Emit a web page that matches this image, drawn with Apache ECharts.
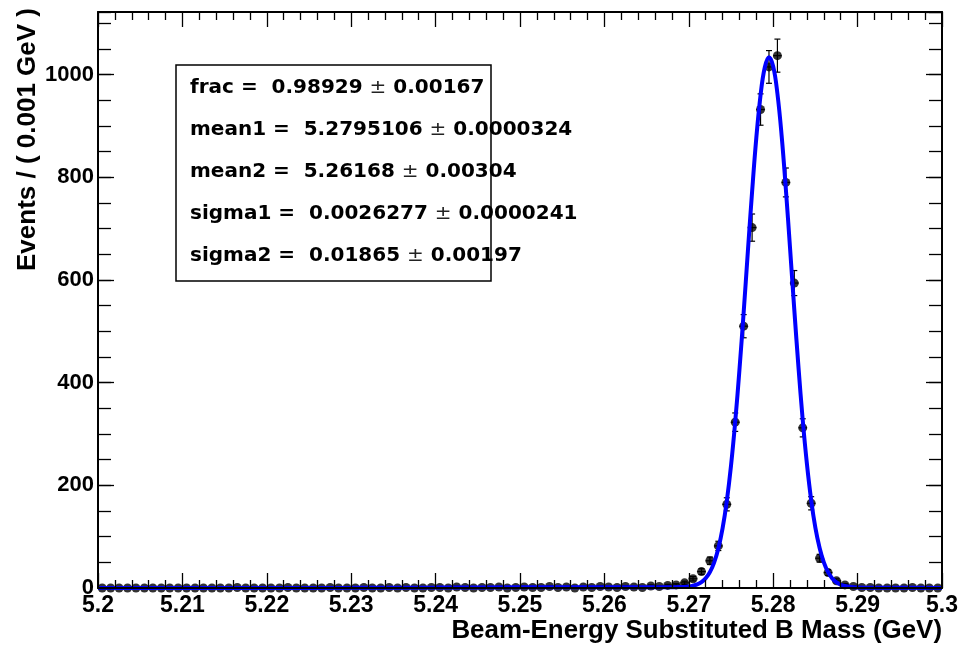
<!DOCTYPE html>
<html>
<head>
<meta charset="utf-8">
<script src="https://cdn.jsdelivr.net/npm/echarts@6/dist/echarts.min.js"></script>
<style>
html,body{margin:0;padding:0;background:#ffffff;}
#chart{width:963px;height:645px;}
</style>
</head>
<body>
<div id="chart"></div>
<script>
// ---- binning of the histogram ----
const binLow = 5.2;
const binWidth = 0.001;

// ---- data: events per bin (100 bins, 5.200 .. 5.300 GeV) ----
const counts = [
  0,0,0,0,0,0,0,0,0,0,
  0,0,0,0,0,0,1,0,0,0,
  0,0,1,0,0,0,0,1,0,0,
  0,1,0,0,1,0,1,0,0,1,
  1,0,2,1,0,1,1,2,0,1,
  2,1,1,3,1,2,0,2,1,3,
  2,1,3,2,1,4,3,5,6,10,
  18,32,53,82,163,323,510,702,932,1015,
  1037,790,594,312,165,58,30,14,6,3,
  1,1,0,0,0,0,1,0,0,0
];
// ---- data: error on each bin ----
const countErrors = [
  1.15,1.15,1.15,1.15,1.15,1.15,1.15,1.15,1.15,1.15,
  1.15,1.15,1.15,1.15,1.15,1.15,1,1.15,1.15,1.15,
  1.15,1.15,1,1.15,1.15,1.15,1.15,1,1.15,1.15,
  1.15,1,1.15,1.15,1,1.15,1,1.15,1.15,1,
  1,1.15,1.41,1,1.15,1,1,1.41,1.15,1,
  1.41,1,1,1.73,1,1.41,1.15,1.41,1,1.73,
  1.41,1,1.73,1.41,1,2,1.73,2.24,2.45,3.16,
  4.24,5.66,7.28,9.06,12.77,17.97,22.58,26.5,30.53,31.86,
  32.2,28.11,24.37,17.66,12.85,7.62,5.48,3.74,2.45,1.73,
  1,1,1.15,1.15,1.15,1.15,1,1.15,1.15,1.15
];

// ---- fitted curve ----
const curveX = [5.200,5.210,5.220,5.230,5.240,5.250,5.260,5.265,5.268,5.269,
  5.2700,5.2705,5.2710,5.2715,5.2720,5.2725,5.2730,5.2735,5.2740,5.2745,
  5.2750,5.2755,5.2760,5.2765,5.2770,5.2775,5.2780,5.2785,5.2790,5.2795,
  5.2800,5.2805,5.2810,5.2815,5.2820,5.2825,5.2830,5.2835,5.2840,5.2845,
  5.2850,5.2855,5.2860,5.2865,5.2870,5.2875,5.2880,5.2885,5.2890,5.2900,
  5.2910,5.2950,5.3000];
const curveY = [0.0,0.03,0.13,0.37,0.8,1.3,1.55,1.5,1.6,1.8,
  3.0,4.4,6.9,11.3,18.9,31,49.5,77,116,169,
  238,324,425,537,656,772,877,960,1014,1034,
  1016,963,881,777,661,542,429,327,241,171,
  117,78,50,31,18.6,11,6.4,3.8,2.3,0.8,
  0.5,0.3,0.2];

// ---- tick labels ----
const xTickLabels = ['5.2','5.21','5.22','5.23','5.24','5.25','5.26','5.27','5.28','5.29','5.3'];
const yTickLabels = ['0','200','400','600','800','1000'];

// ---- texts ----
const xTitle = 'Beam-Energy Substituted B Mass (GeV)';
const yTitle = 'Events / ( 0.001 GeV )';
const paramNames = ['frac =  ', 'mean1 =  ', 'mean2 =  ', 'sigma1 =  ', 'sigma2 =  '];
const paramValues = ['0.98929', '5.2795106', '5.26168', '0.0026277', '0.01865'];
const paramErrors = ['0.00167', '0.0000324', '0.00304', '0.0000241', '0.00197'];

// ---- build ----
const FONT = "'Liberation Sans', Arial, Helvetica, sans-serif";
const BOXFONT = "'DejaVu Sans', 'Liberation Sans', sans-serif";
const points = counts.map((c, i) => [binLow + (i + 0.5) * binWidth, c, countErrors[i]]);
const curve = curveX.map((x, i) => [x, curveY[i]]);

const X_MIN = 5.2, X_MAX = 5.3, Y_MAX = 1122;

function xFmt(v) {
  const i = Math.round((v - X_MIN) / 0.01);
  if (Math.abs(v - (X_MIN + i * 0.01)) < 1e-7 && xTickLabels[i] !== undefined) return xTickLabels[i];
  return '';
}
function yFmt(v) {
  const i = Math.round(v / 200);
  if (Math.abs(v - i * 200) < 1e-6 && yTickLabels[i] !== undefined) return yTickLabels[i];
  return '';
}

const tickStyle = { color: '#000', width: 1.3 };

function xAxisDef(pos, labels) {
  return {
    type: 'value', position: pos, min: X_MIN, max: X_MAX, interval: 0.01, z: 10,
    axisLine: { show: true, onZero: false, lineStyle: { color: '#000', width: 2 } },
    axisTick: { show: true, inside: true, length: 15, lineStyle: tickStyle },
    minorTick: { show: true, splitNumber: 5, length: 8, lineStyle: tickStyle },
    splitLine: { show: false }, minorSplitLine: { show: false },
    axisLabel: labels ? { show: true, formatter: xFmt, color: '#000', fontFamily: FONT, fontWeight: 'bold', fontSize: 23, margin: 6, showMinLabel: true, showMaxLabel: true } : { show: false }
  };
}
function yAxisDef(pos, interval, len, line, labels) {
  return {
    type: 'value', position: pos, min: 0, max: Y_MAX, interval: interval, z: 10,
    axisLine: { show: line, onZero: false, lineStyle: { color: '#000', width: 2 } },
    axisTick: { show: true, inside: true, length: len, lineStyle: tickStyle },
    splitLine: { show: false },
    axisLabel: labels ? { show: true, formatter: yFmt, color: '#000', fontFamily: FONT, fontWeight: 'bold', fontSize: 22, margin: 4, showMaxLabel: false } : { show: false }
  };
}

const chart = echarts.init(document.getElementById('chart'), null, { renderer: 'canvas' });

const graphics = [
  {
    type: 'text', x: 942, y: 631, z: 20,
    style: { text: xTitle, fill: '#000', font: "bold 25.9px 'Liberation Sans', Arial, sans-serif", align: 'right', verticalAlign: 'middle' }
  },
  {
    type: 'text', x: 28, y: 8, rotation: Math.PI / 2, z: 20,
    style: { text: yTitle, fill: '#000', font: "bold 26px 'Liberation Sans', Arial, sans-serif", align: 'right', verticalAlign: 'middle' }
  },
  {
    type: 'rect', z: 15,
    shape: { x: 176, y: 65, width: 315, height: 216 },
    style: { fill: '#ffffff', stroke: '#000', lineWidth: 1.5 }
  }
];
const lineY = [88, 130, 172, 214, 256];
paramNames.forEach((n, i) => {
  graphics.push({
    type: 'text', x: 190, y: lineY[i], z: 20,
    style: {
      text: '{b|' + n + paramValues[i] + ' }{pm|±}{b| ' + paramErrors[i] + '}',
      align: 'left', verticalAlign: 'middle',
      rich: {
        b: { fontFamily: BOXFONT, fontWeight: 'bold', fontSize: 20, fill: '#000' },
        pm: { fontFamily: BOXFONT, fontWeight: 'normal', fontSize: 20, fill: '#222' }
      }
    }
  });
});

chart.setOption({
  animation: false,
  backgroundColor: '#ffffff',
  grid: { left: 98, right: 21, top: 12, bottom: 57, containLabel: false, outerBoundsMode: 'none' },
  xAxis: [xAxisDef('bottom', true), xAxisDef('top', false)],
  yAxis: [
    yAxisDef('left', 200, 16, true, true),
    yAxisDef('left', 50, 13, false, false),
    yAxisDef('right', 200, 16, true, false),
    yAxisDef('right', 50, 13, false, false)
  ],
  series: [
    {
      type: 'custom', name: 'errors', xAxisIndex: 0, yAxisIndex: 0, z: 3,
      data: points,
      renderItem: function (params, api) {
        const x = api.value(0), y = api.value(1), e = api.value(2);
        const c = api.coord([x, y]);
        const t = api.coord([x, y + e]);
        const b = api.coord([x, Math.max(0, y - e)]);
        const l = api.coord([x - binWidth / 2, y]);
        const r = api.coord([x + binWidth / 2, y]);
        const st = { stroke: '#000', lineWidth: 1.2 };
        const cap = 3;
        return {
          type: 'group',
          children: [
            { type: 'line', shape: { x1: c[0], y1: t[1], x2: c[0], y2: b[1] }, style: st },
            { type: 'line', shape: { x1: l[0], y1: c[1], x2: r[0], y2: c[1] }, style: st },
            { type: 'line', shape: { x1: c[0] - cap, y1: t[1], x2: c[0] + cap, y2: t[1] }, style: st },
            { type: 'line', shape: { x1: c[0] - cap, y1: b[1], x2: c[0] + cap, y2: b[1] }, style: st }
          ]
        };
      }
    },
    {
      type: 'scatter', name: 'data', xAxisIndex: 0, yAxisIndex: 0, z: 4,
      data: points.map(p => [p[0], p[1]]),
      symbol: 'circle', symbolSize: 9,
      itemStyle: { color: '#000' },
      clip: false
    },
    {
      type: 'line', name: 'fit', xAxisIndex: 0, yAxisIndex: 0, z: 5,
      data: curve, showSymbol: false, symbol: 'none', smooth: 0.4, clip: false,
      lineStyle: { color: '#0000ff', width: 4 }
    }
  ],
  graphic: graphics
});
</script>
</body>
</html>
